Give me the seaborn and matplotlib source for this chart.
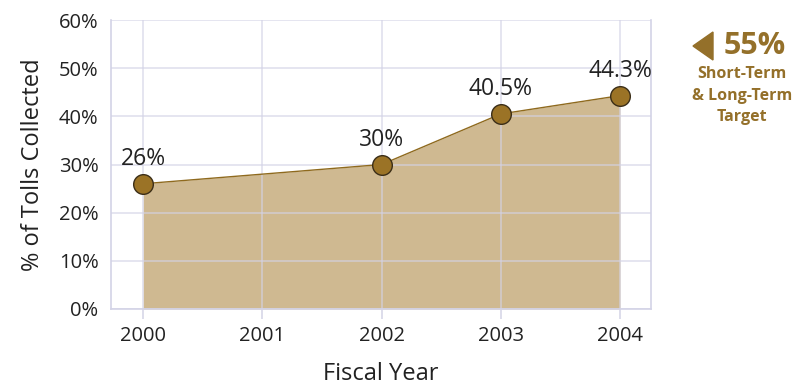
import matplotlib
matplotlib.use("Agg")
import matplotlib.pyplot as plt
import seaborn as sns
import pandas as pd

# Share of tolls collected by fiscal year
years = [2000, 2002, 2003, 2004]
collected_pct = [26, 30, 40.5, 44.3]
value_labels = ["26%", "30%", "40.5%", "44.3%"]
tick_years = [2000, 2001, 2002, 2003, 2004]
y_ticks = [0, 10, 20, 30, 40, 50, 60]
target_text = "55%"
target_caption = ["Short-Term", "& Long-Term", "Target"]

df = pd.DataFrame({"year": years, "pct": collected_pct})

sns.set_theme(style="white")
plt.rcParams["font.family"] = ["Open Sans", "DejaVu Sans"]

GRID = "#d3d3e6"
FILL = "#cfb991"
LINE = "#8f6a1e"
MARK = "#9b7326"
GOLD = "#94702a"
TEXT = "#222222"

fig = plt.figure(figsize=(7.97, 3.86), dpi=100)
ax = fig.add_axes([111 / 797, 1 - 309 / 386, (651 - 111) / 797, (309 - 20) / 386])

ax.fill_between(df["year"], df["pct"], 0, color=FILL, linewidth=0, zorder=1)
sns.lineplot(data=df, x="year", y="pct", ax=ax, color=LINE, linewidth=1.0, zorder=3)
sns.scatterplot(data=df, x="year", y="pct", ax=ax, s=200, color=MARK,
                edgecolor="#3b2e18", linewidth=1.0, zorder=4)

for x, y, t in zip(years, collected_pct, value_labels):
    ax.text(x, y + 2.6, t, ha="center", va="bottom", fontsize=16.5, color=TEXT, zorder=5)

ax.set_xlim(1999.73, 2004.26)
ax.set_ylim(0, 60)
ax.set_xticks(tick_years)
ax.set_xticklabels([str(y) for y in tick_years])
ax.set_yticks(y_ticks)
ax.set_yticklabels([f"{v}%" for v in y_ticks])

ax.grid(True, color=GRID, linewidth=1.1, alpha=0.75, zorder=2)
ax.set_axisbelow(False)
for s in ax.spines.values():
    s.set_color(GRID)
    s.set_linewidth(1.2)
ax.spines["top"].set_visible(False)

ax.tick_params(axis="x", length=7, color=GRID, width=1.1, pad=5,
               labelsize=14.5, labelcolor=TEXT, bottom=True)
ax.tick_params(axis="y", length=0, pad=9, labelsize=14.5, labelcolor=TEXT)

ax.set_xlabel("Fiscal Year", fontsize=17, color=TEXT, labelpad=12)
ax.set_ylabel("% of Tolls Collected", fontsize=17, color=TEXT, labelpad=10)

# Target callout on the right
fig.patches.append(plt.Polygon([[693 / 797, 1 - 46 / 386], [713 / 797, 1 - 32 / 386],
                                [713 / 797, 1 - 60 / 386]], closed=True,
                               transform=fig.transFigure, color=GOLD))
fig.text(755 / 797, 1 - 46 / 386, target_text, ha="center", va="center",
         fontsize=22, fontweight="bold", color=GOLD)
for i, line in enumerate(target_caption):
    fig.text(742 / 797, 1 - (74 + i * 21.5) / 386, line, ha="center", va="center",
             fontsize=11.5, fontweight="bold", color=GOLD)

fig.savefig("out.png", dpi=100)
